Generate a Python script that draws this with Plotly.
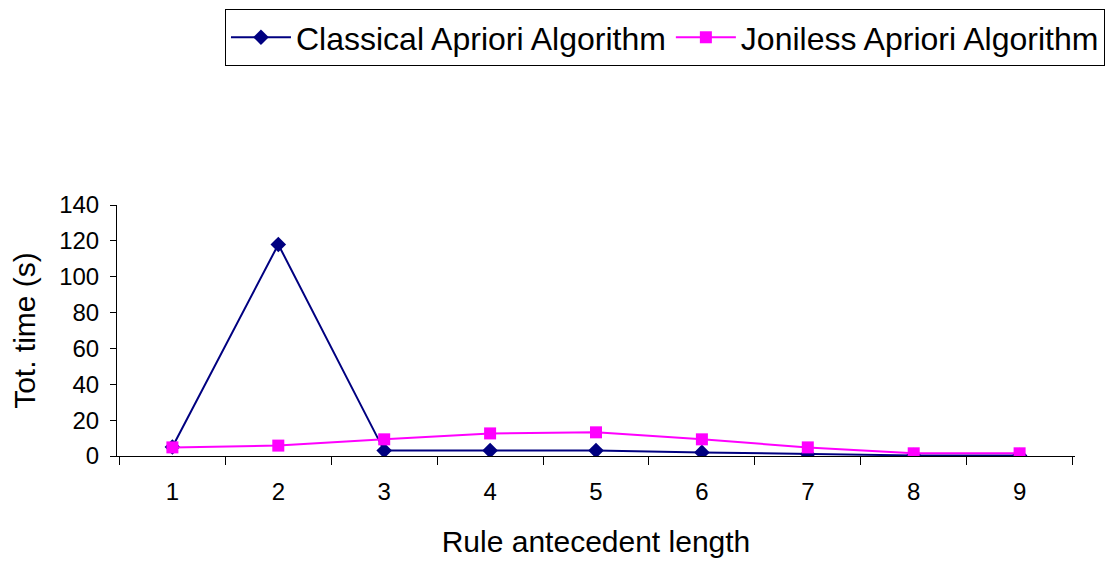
import plotly.graph_objects as go

rule_length = ["1", "2", "3", "4", "5", "6", "7", "8", "9"]
classical_time = [5, 118, 3, 3, 3, 2, 1, 0.3, 0.3]
joinless_time = [4.8, 5.8, 9.3, 12.6, 13.2, 9.3, 4.8, 1.5, 1.5]
y_ticks = [0, 20, 40, 60, 80, 100, 120, 140]

font_family = "Liberation Sans, Arial, sans-serif"

fig = go.Figure()
fig.add_trace(go.Scatter(
    x=rule_length, y=classical_time, mode="lines+markers",
    name="Classical Apriori Algorithm",
    line=dict(color="#000080", width=2),
    marker=dict(symbol="diamond", size=12, color="#000080"),
))
fig.add_trace(go.Scatter(
    x=rule_length, y=joinless_time, mode="lines+markers",
    name="Joniless Apriori Algorithm",
    line=dict(color="#FF00FF", width=2),
    marker=dict(symbol="square", size=12, color="#FF00FF"),
))

fig.update_layout(
    width=1110, height=561,
    margin=dict(l=117, r=35, t=205, b=105, autoexpand=False),
    plot_bgcolor="white", paper_bgcolor="white",
    font=dict(family=font_family, color="black", size=24),
    showlegend=True,
    legend=dict(
        orientation="h", x=0.1127, y=1.781, xanchor="left", yanchor="top",
        bordercolor="black", borderwidth=1,
        font=dict(size=32, family=font_family),
        itemwidth=60, tracegroupgap=0,
    ),
    xaxis=dict(
        type="category", tickson="boundaries",
        showline=True, linecolor="black", linewidth=1,
        ticks="outside", ticklen=8, tickcolor="black",
        ticklabelstandoff=14,
        showgrid=False, zeroline=False,
        tickfont=dict(size=24),
        title=dict(text="Rule antecedent length", font=dict(size=30), standoff=27),
    ),
    yaxis=dict(
        range=[0, 140], tickvals=y_ticks,
        showline=True, linecolor="black", linewidth=1,
        ticks="outside", ticklen=6, tickcolor="black",
        ticklabelstandoff=6,
        showgrid=False, zeroline=False,
        tickfont=dict(size=24),
        title=dict(text="Tot. time (s)", font=dict(size=30), standoff=14),
    ),
)

fig.write_html("out.html")
